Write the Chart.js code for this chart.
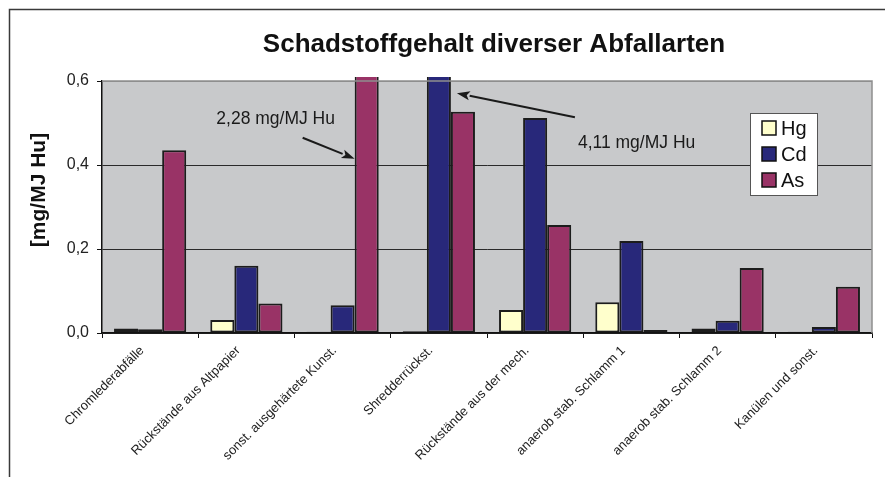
<!DOCTYPE html>
<html>
<head>
<meta charset="utf-8">
<script src="https://cdn.jsdelivr.net/npm/chart.js@4.4.1/dist/chart.umd.min.js"></script>
<style>
  html, body { margin: 0; padding: 0; background: #ffffff; }
  #wrap { width: 885px; height: 477px; }
</style>
</head>
<body>
<div id="wrap"><canvas id="c" width="885" height="477"></canvas></div>
<script>
// Waste categories along the x axis
const categories = [
  'Chromlederabfälle',
  'Rückstände aus Altpapier',
  'sonst. ausgehärtete Kunst.',
  'Shredderrückst.',
  'Rückstände aus der mech.',
  'anaerob stab. Schlamm 1',
  'anaerob stab. Schlamm 2',
  'Kanülen und sonst.'
];

// Pollutant content in mg/MJ Hu
const hgValues = [0.011, 0.031, 0.003, 0.004, 0.055, 0.073, 0.011, 0.003];
const cdValues = [0.009, 0.160, 0.066, 4.11, 0.512, 0.219, 0.029, 0.014];
const asValues = [0.435, 0.070, 2.28, 0.527, 0.257, 0.007, 0.155, 0.110];

const seriesNames = ['Hg', 'Cd', 'As'];
const seriesColors = ['#FFFFCC', '#28287A', '#993366'];

const yTicks = [0, 0.2, 0.4, 0.6];

const chartTitle = 'Schadstoffgehalt diverser Abfallarten';

const FONT = "'Liberation Sans', Arial, Helvetica, sans-serif";

function fmt(v) {
  return v.toFixed(1).replace('.', ',');
}

function arrow(ctx, x1, y1, x2, y2) {
  const ang = Math.atan2(y2 - y1, x2 - x1);
  const len = 13, half = 4.5;
  const bx = x2 - len * Math.cos(ang), by = y2 - len * Math.sin(ang);
  ctx.beginPath();
  ctx.moveTo(x1, y1);
  ctx.lineTo(bx, by);
  ctx.stroke();
  ctx.beginPath();
  ctx.moveTo(x2, y2);
  ctx.lineTo(bx + half * Math.sin(ang), by - half * Math.cos(ang));
  ctx.lineTo(bx + 3 * Math.cos(ang), by + 3 * Math.sin(ang));
  ctx.lineTo(bx - half * Math.sin(ang), by + half * Math.cos(ang));
  ctx.closePath();
  ctx.fill();
}

const decorations = {
  id: 'decorations',
  beforeDraw(chart) {
    const { ctx, chartArea: a } = chart;
    ctx.save();
    ctx.fillStyle = '#C8C9CB';
    ctx.fillRect(a.left, a.top, a.right - a.left, a.bottom - a.top);
    // outer frame
    ctx.strokeStyle = '#3a3a3a';
    ctx.lineWidth = 1.5;
    ctx.beginPath();
    ctx.moveTo(9.5, 477);
    ctx.lineTo(9.5, 9.5);
    ctx.lineTo(885, 9.5);
    ctx.stroke();
    ctx.restore();
  },
  afterDraw(chart) {
    const { ctx, chartArea: a, scales } = chart;
    const y = scales.y;
    ctx.save();
    // plot frame on top and right
    ctx.strokeStyle = '#8e8e8e';
    ctx.lineWidth = 1.5;
    ctx.beginPath();
    ctx.moveTo(a.left, a.top);
    ctx.lineTo(a.right, a.top);
    ctx.lineTo(a.right, a.bottom);
    ctx.stroke();

    // chart title
    ctx.fillStyle = '#111';
    ctx.font = 'bold 26px ' + FONT;
    ctx.textAlign = 'center';
    ctx.textBaseline = 'middle';
    ctx.fillText(chartTitle, 494, 45);

    // y axis title
    ctx.save();
    ctx.translate(39, 190);
    ctx.rotate(-Math.PI / 2);
    ctx.fillStyle = '#111';
    ctx.font = 'bold 21px ' + FONT;
    ctx.textAlign = 'center';
    ctx.textBaseline = 'middle';
    ctx.fillText('[mg/MJ Hu]', 0, 0);
    ctx.restore();

    // notes for the bars running off the scale
    ctx.fillStyle = '#1a1a1a';
    ctx.strokeStyle = '#1a1a1a';
    ctx.lineWidth = 2;
    ctx.font = '17.5px ' + FONT;
    ctx.textBaseline = 'middle';

    const asBar = chart.getDatasetMeta(2).data[2];
    const ax = asBar.x - asBar.width / 2;
    const ay = y.getPixelForValue(0.415);
    arrow(ctx, ax - 52, ay - 21, ax, ay);
    ctx.textAlign = 'center';
    ctx.fillText('2,28 mg/MJ Hu', ax - 79, y.getPixelForValue(0.51));

    const cdBar = chart.getDatasetMeta(1).data[3];
    const cx = cdBar.x + cdBar.width / 2 + 6;
    const cy = y.getPixelForValue(0.571);
    arrow(ctx, cx + 118, cy + 24, cx, cy);
    ctx.textAlign = 'left';
    ctx.fillText('4,11 mg/MJ Hu', cx + 121, y.getPixelForValue(0.453));

    // legend box
    const lx = 750, ly = 113, lw = 67, lh = 82;
    ctx.fillStyle = '#ffffff';
    ctx.fillRect(lx, ly, lw, lh);
    ctx.strokeStyle = '#555';
    ctx.lineWidth = 1;
    ctx.strokeRect(lx + 0.5, ly + 0.5, lw, lh);
    ctx.font = '20px ' + FONT;
    ctx.textAlign = 'left';
    chart.data.datasets.forEach((ds, i) => {
      const rowY = ly + 15 + i * 26;
      ctx.fillStyle = ds.backgroundColor;
      ctx.fillRect(lx + 12, rowY - 7, 14, 14);
      ctx.strokeStyle = '#111';
      ctx.lineWidth = 1.5;
      ctx.strokeRect(lx + 12, rowY - 7, 14, 14);
      ctx.fillStyle = '#111';
      ctx.fillText(ds.label, lx + 31, rowY + 1);
    });
    ctx.restore();
  }
};

const datasets = [hgValues, cdValues, asValues].map((vals, i) => ({
  label: seriesNames[i],
  data: vals,
  backgroundColor: seriesColors[i],
  borderColor: '#1c1c1c',
  borderWidth: 2,
  borderSkipped: false,
  categoryPercentage: 0.75,
  barPercentage: 1.0,
  clip: { left: 0, top: 4, right: 0, bottom: 0 }
}));

new Chart(document.getElementById('c'), {
  type: 'bar',
  data: { labels: categories, datasets },
  options: {
    responsive: false,
    devicePixelRatio: 1,
    animation: false,
    events: [],
    layout: { padding: { left: 0, right: 13, top: 81, bottom: 0 } },
    plugins: {
      legend: { display: false },
      tooltip: { enabled: false },
      title: { display: false }
    },
    scales: {
      x: {
        grid: {
          display: true,
          drawOnChartArea: false,
          drawTicks: true,
          tickLength: 5,
          color: '#111',
          offset: true
        },
        border: { display: true, color: '#111', width: 1.5 },
        ticks: {
          minRotation: 45,
          maxRotation: 45,
          autoSkip: false,
          padding: 5,
          labelOffset: -8,
          color: '#222',
          font: { family: FONT, size: 13 }
        },
        afterFit(scale) { scale.height = 144; }
      },
      y: {
        min: 0,
        max: 0.6,
        afterBuildTicks(scale) { scale.ticks = yTicks.map(v => ({ value: v })); },
        grid: {
          color: ctx => (ctx.tick && ctx.tick.value === 0.6 ? '#8e8e8e' : '#2a2a2a'),
          lineWidth: 1,
          drawTicks: true,
          tickLength: 5,
          tickColor: '#111'
        },
        border: { display: true, color: '#111', width: 1.5 },
        ticks: {
          padding: 8,
          color: '#222',
          font: { family: FONT, size: 16 },
          callback: v => fmt(v)
        },
        afterFit(scale) { scale.width = 102; }
      }
    }
  },
  plugins: [decorations]
});
</script>
</body>
</html>
